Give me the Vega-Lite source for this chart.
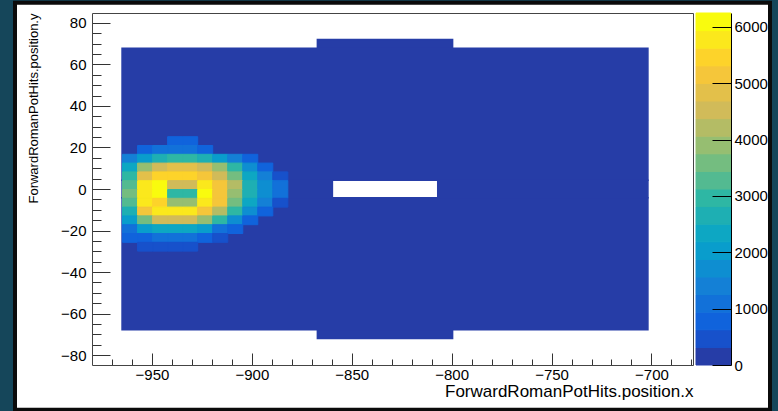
{
  "$schema": "https://vega.github.io/schema/vega-lite/v6.json",
  "background": "#15465a",
  "padding": {"left": 12, "top": 0, "right": 7, "bottom": 0},
  "bounds": "flush",
  "spacing": 3,
  "config": {
    "view": {"stroke": null},
    "font": "Liberation Sans",
    "axis": {"labelFont": "Liberation Sans", "titleFont": "Liberation Sans", "labelColor": "#000", "titleColor": "#000", "titleFontWeight": "normal", "grid": false, "domainColor": "#444", "domainWidth": 1, "tickColor": "#333", "tickWidth": 1, "labelFontSize": 15}
  },
  "datasets": {
    "regions": [
      {"x1": -964.96, "x2": -701.76, "y1": 4.24, "y2": 67.84, "v": 150},
      {"x1": -964.96, "x2": -701.76, "y1": -67.84, "y2": -4.24, "v": 150},
      {"x1": -964.96, "x2": -859.68, "y1": -4.24, "y2": 4.24, "v": 150},
      {"x1": -806.96, "x2": -701.76, "y1": -4.24, "y2": 4.24, "v": 150},
      {"x1": -867.2, "x2": -799.52, "y1": 67.84, "y2": 72.08, "v": 150},
      {"x1": -867.2, "x2": -799.52, "y1": -72.08, "y2": -67.84, "v": 150}
    ],
    "hits": [
      {"x": -938.64, "y": 23.32, "v": 774}, {"x": -931.12, "y": 23.32, "v": 774},
      {"x": -953.68, "y": 19.08, "v": 774}, {"x": -946.16, "y": 19.08, "v": 1086}, {"x": -938.64, "y": 19.08, "v": 1086}, {"x": -931.12, "y": 19.08, "v": 1086}, {"x": -923.6, "y": 19.08, "v": 774},
      {"x": -961.2, "y": 14.84, "v": 1398}, {"x": -953.68, "y": 14.84, "v": 2022}, {"x": -946.16, "y": 14.84, "v": 2646}, {"x": -938.64, "y": 14.84, "v": 2958}, {"x": -931.12, "y": 14.84, "v": 2958}, {"x": -923.6, "y": 14.84, "v": 2646}, {"x": -916.08, "y": 14.84, "v": 2022}, {"x": -908.56, "y": 14.84, "v": 1398}, {"x": -901.04, "y": 14.84, "v": 774},
      {"x": -961.2, "y": 10.6, "v": 2334}, {"x": -953.68, "y": 10.6, "v": 3894}, {"x": -946.16, "y": 10.6, "v": 4518}, {"x": -938.64, "y": 10.6, "v": 4830}, {"x": -931.12, "y": 10.6, "v": 4830}, {"x": -923.6, "y": 10.6, "v": 4518}, {"x": -916.08, "y": 10.6, "v": 3894}, {"x": -908.56, "y": 10.6, "v": 2958}, {"x": -901.04, "y": 10.6, "v": 1710}, {"x": -893.52, "y": 10.6, "v": 774},
      {"x": -961.2, "y": 6.36, "v": 2958}, {"x": -953.68, "y": 6.36, "v": 4830}, {"x": -946.16, "y": 6.36, "v": 5454}, {"x": -938.64, "y": 6.36, "v": 5454}, {"x": -931.12, "y": 6.36, "v": 5454}, {"x": -923.6, "y": 6.36, "v": 5142}, {"x": -916.08, "y": 6.36, "v": 4518}, {"x": -908.56, "y": 6.36, "v": 3582}, {"x": -901.04, "y": 6.36, "v": 2334}, {"x": -893.52, "y": 6.36, "v": 1398}, {"x": -886.0, "y": 6.36, "v": 462},
      {"x": -961.2, "y": 2.12, "v": 3270}, {"x": -953.68, "y": 2.12, "v": 5766}, {"x": -946.16, "y": 2.12, "v": 6078}, {"x": -938.64, "y": 2.12, "v": 4518}, {"x": -931.12, "y": 2.12, "v": 4518}, {"x": -923.6, "y": 2.12, "v": 5766}, {"x": -916.08, "y": 2.12, "v": 5142}, {"x": -908.56, "y": 2.12, "v": 4206}, {"x": -901.04, "y": 2.12, "v": 2646}, {"x": -893.52, "y": 2.12, "v": 1710}, {"x": -886.0, "y": 2.12, "v": 1086},
      {"x": -961.2, "y": -2.12, "v": 3582}, {"x": -953.68, "y": -2.12, "v": 5766}, {"x": -946.16, "y": -2.12, "v": 6078}, {"x": -938.64, "y": -2.12, "v": 2958}, {"x": -931.12, "y": -2.12, "v": 2958}, {"x": -923.6, "y": -2.12, "v": 6078}, {"x": -916.08, "y": -2.12, "v": 5142}, {"x": -908.56, "y": -2.12, "v": 3894}, {"x": -901.04, "y": -2.12, "v": 2646}, {"x": -893.52, "y": -2.12, "v": 1710}, {"x": -886.0, "y": -2.12, "v": 1086},
      {"x": -961.2, "y": -6.36, "v": 3270}, {"x": -953.68, "y": -6.36, "v": 5766}, {"x": -946.16, "y": -6.36, "v": 5454}, {"x": -938.64, "y": -6.36, "v": 3894}, {"x": -931.12, "y": -6.36, "v": 3894}, {"x": -923.6, "y": -6.36, "v": 5766}, {"x": -916.08, "y": -6.36, "v": 5142}, {"x": -908.56, "y": -6.36, "v": 3582}, {"x": -901.04, "y": -6.36, "v": 2334}, {"x": -893.52, "y": -6.36, "v": 1398}, {"x": -886.0, "y": -6.36, "v": 462},
      {"x": -961.2, "y": -10.6, "v": 2646}, {"x": -953.68, "y": -10.6, "v": 5142}, {"x": -946.16, "y": -10.6, "v": 5766}, {"x": -938.64, "y": -10.6, "v": 5766}, {"x": -931.12, "y": -10.6, "v": 5766}, {"x": -923.6, "y": -10.6, "v": 5142}, {"x": -916.08, "y": -10.6, "v": 4206}, {"x": -908.56, "y": -10.6, "v": 2958}, {"x": -901.04, "y": -10.6, "v": 1710}, {"x": -893.52, "y": -10.6, "v": 774},
      {"x": -961.2, "y": -14.84, "v": 2022}, {"x": -953.68, "y": -14.84, "v": 3582}, {"x": -946.16, "y": -14.84, "v": 4518}, {"x": -938.64, "y": -14.84, "v": 4518}, {"x": -931.12, "y": -14.84, "v": 4518}, {"x": -923.6, "y": -14.84, "v": 3894}, {"x": -916.08, "y": -14.84, "v": 2958}, {"x": -908.56, "y": -14.84, "v": 1710}, {"x": -901.04, "y": -14.84, "v": 774},
      {"x": -961.2, "y": -19.08, "v": 1086}, {"x": -953.68, "y": -19.08, "v": 2022}, {"x": -946.16, "y": -19.08, "v": 2334}, {"x": -938.64, "y": -19.08, "v": 2334}, {"x": -931.12, "y": -19.08, "v": 2334}, {"x": -923.6, "y": -19.08, "v": 2022}, {"x": -916.08, "y": -19.08, "v": 1086}, {"x": -908.56, "y": -19.08, "v": 774},
      {"x": -961.2, "y": -23.32, "v": 774}, {"x": -953.68, "y": -23.32, "v": 774}, {"x": -946.16, "y": -23.32, "v": 1086}, {"x": -938.64, "y": -23.32, "v": 1086}, {"x": -931.12, "y": -23.32, "v": 1086}, {"x": -923.6, "y": -23.32, "v": 774}, {"x": -916.08, "y": -23.32, "v": 462},
      {"x": -953.68, "y": -27.56, "v": 462}, {"x": -946.16, "y": -27.56, "v": 462}, {"x": -938.64, "y": -27.56, "v": 462}, {"x": -931.12, "y": -27.56, "v": 462}
    ],
    "palette": [
      {"lo": 0, "hi": 312.25, "v": 156}, {"lo": 312.25, "hi": 624.5, "v": 468}, {"lo": 624.5, "hi": 936.75, "v": 780}, {"lo": 936.75, "hi": 1249, "v": 1093},
      {"lo": 1249, "hi": 1561.25, "v": 1405}, {"lo": 1561.25, "hi": 1873.5, "v": 1717}, {"lo": 1873.5, "hi": 2185.75, "v": 2030}, {"lo": 2185.75, "hi": 2498, "v": 2342},
      {"lo": 2498, "hi": 2810.25, "v": 2654}, {"lo": 2810.25, "hi": 3122.5, "v": 2966}, {"lo": 3122.5, "hi": 3434.75, "v": 3279}, {"lo": 3434.75, "hi": 3747, "v": 3591},
      {"lo": 3747, "hi": 4059.25, "v": 3903}, {"lo": 4059.25, "hi": 4371.5, "v": 4215}, {"lo": 4371.5, "hi": 4683.75, "v": 4528}, {"lo": 4683.75, "hi": 4996, "v": 4840},
      {"lo": 4996, "hi": 5308.25, "v": 5152}, {"lo": 5308.25, "hi": 5620.5, "v": 5464}, {"lo": 5620.5, "hi": 5932.75, "v": 5777}, {"lo": 5932.75, "hi": 6245, "v": 6089}
    ]
  },
  "hconcat": [
    {
      "width": 601,
      "height": 352,
      "layer": [
        {
          "data": {"values": [{}]},
          "mark": {"type": "rect", "fill": "#ffffff", "stroke": "#0b0b0b", "strokeWidth": 4},
          "encoding": {
            "x": {"datum": -1018.54, "type": "quantitative", "scale": {"domain": [-980, -679.2], "nice": false, "zero": false}, "axis": {"orient": "top", "labels": false, "ticks": false, "title": null, "zindex": 2}},
            "x2": {"datum": -640.66},
            "y": {"datum": 89.76, "type": "quantitative", "scale": {"domain": [-84.8, 84.8], "nice": false, "zero": false}, "axis": {"orient": "right", "labels": false, "ticks": false, "title": null, "zindex": 2}},
            "y2": {"datum": -106.34}
          }
        },
        {
          "data": {"name": "regions"},
          "mark": {"type": "rect", "strokeWidth": 1.5},
          "encoding": {
            "x": {"field": "x1", "type": "quantitative", "scale": {"domain": [-980, -679.2], "nice": false, "zero": false}, "axis": {"orient": "bottom", "values": [-970, -960, -940, -930, -920, -910, -890, -880, -870, -860, -840, -830, -820, -810, -790, -780, -770, -760, -740, -730, -720, -710, -690, -680], "labels": false, "domain": false, "title": null, "tickSize": -6, "zindex": 2}},
            "x2": {"field": "x2"},
            "y": {"field": "y1", "type": "quantitative", "scale": {"domain": [-84.8, 84.8], "nice": false, "zero": false}, "axis": {"orient": "left", "values": [-75, -70, -65, -55, -50, -45, -35, -30, -25, -15, -10, -5, 5, 10, 15, 25, 30, 35, 45, 50, 55, 65, 70, 75], "labels": false, "domain": false, "title": null, "tickSize": -9, "zindex": 2}},
            "y2": {"field": "y2"},
            "color": {"field": "v", "type": "quantitative", "scale": {"type": "quantize", "domain": [0, 6245], "nice": false, "range": ["#263da7", "#1751cb", "#1063dc", "#1271d9", "#1480d6", "#0e8ed1", "#099dcc", "#0da7c3", "#1eafb3", "#2eb7a4", "#53ba91", "#74bd80", "#96be71", "#b4bc65", "#d1bb59", "#e3c04a", "#f5c63a", "#fdd32a", "#fbe81c", "#f9fb0e"]}, "legend": null},
            "stroke": {"field": "v", "type": "quantitative", "scale": {"type": "quantize", "domain": [0, 6245], "nice": false, "range": ["#263da7", "#1751cb", "#1063dc", "#1271d9", "#1480d6", "#0e8ed1", "#099dcc", "#0da7c3", "#1eafb3", "#2eb7a4", "#53ba91", "#74bd80", "#96be71", "#b4bc65", "#d1bb59", "#e3c04a", "#f5c63a", "#fdd32a", "#fbe81c", "#f9fb0e"]}, "legend": null}
          }
        },
        {
          "data": {"name": "hits"},
          "mark": {"type": "rect", "strokeWidth": 1},
          "encoding": {
            "x": {"field": "x", "type": "quantitative", "bin": {"extent": [-980, -679.2], "step": 7.52, "nice": false}, "scale": {"domain": [-980, -679.2], "nice": false, "zero": false}, "axis": {"orient": "bottom", "values": [-950, -900, -850, -800, -750, -700], "format": "d", "tickSize": -12, "labelPadding": 14, "labelFlush": false, "title": "ForwardRomanPotHits.position.x", "titleAnchor": "end", "titleFontSize": 17, "titlePadding": 1, "zindex": 2}},
            "y": {"field": "y", "type": "quantitative", "bin": {"extent": [-84.8, 84.8], "step": 4.24, "nice": false}, "scale": {"domain": [-84.8, 84.8], "nice": false, "zero": false}, "axis": {"orient": "left", "values": [-80, -60, -40, -20, 0, 20, 40, 60, 80], "format": "d", "tickSize": -18, "labelPadding": 24, "title": "ForwardRomanPotHits.position.y", "titleAnchor": "end", "titleFontSize": 13, "titlePadding": 20, "zindex": 2}},
            "color": {"field": "v", "type": "quantitative", "scale": {"type": "quantize", "domain": [0, 6245], "nice": false, "range": ["#263da7", "#1751cb", "#1063dc", "#1271d9", "#1480d6", "#0e8ed1", "#099dcc", "#0da7c3", "#1eafb3", "#2eb7a4", "#53ba91", "#74bd80", "#96be71", "#b4bc65", "#d1bb59", "#e3c04a", "#f5c63a", "#fdd32a", "#fbe81c", "#f9fb0e"]}, "legend": null},
            "stroke": {"field": "v", "type": "quantitative", "scale": {"type": "quantize", "domain": [0, 6245], "nice": false, "range": ["#263da7", "#1751cb", "#1063dc", "#1271d9", "#1480d6", "#0e8ed1", "#099dcc", "#0da7c3", "#1eafb3", "#2eb7a4", "#53ba91", "#74bd80", "#96be71", "#b4bc65", "#d1bb59", "#e3c04a", "#f5c63a", "#fdd32a", "#fbe81c", "#f9fb0e"]}, "legend": null}
          }
        }
      ],
      "resolve": {"axis": {"x": "independent", "y": "independent"}}
    },
    {
      "width": 35,
      "height": 352,
      "data": {"name": "palette"},
      "mark": {"type": "rect", "strokeWidth": 1},
      "encoding": {
        "y": {"field": "lo", "type": "quantitative", "scale": {"domain": [0, 6245], "nice": false, "zero": false}, "axis": {"orient": "right", "values": [0, 1000, 2000, 3000, 4000, 5000, 6000], "format": "d", "tickSize": -19, "labelPadding": 22, "title": null, "domainColor": "#000", "tickColor": "#000", "zindex": 2}},
        "y2": {"field": "hi"},
        "color": {"field": "v", "type": "quantitative", "scale": {"type": "quantize", "domain": [0, 6245], "nice": false, "range": ["#263da7", "#1751cb", "#1063dc", "#1271d9", "#1480d6", "#0e8ed1", "#099dcc", "#0da7c3", "#1eafb3", "#2eb7a4", "#53ba91", "#74bd80", "#96be71", "#b4bc65", "#d1bb59", "#e3c04a", "#f5c63a", "#fdd32a", "#fbe81c", "#f9fb0e"]}, "legend": null},
        "stroke": {"field": "v", "type": "quantitative", "scale": {"type": "quantize", "domain": [0, 6245], "nice": false, "range": ["#263da7", "#1751cb", "#1063dc", "#1271d9", "#1480d6", "#0e8ed1", "#099dcc", "#0da7c3", "#1eafb3", "#2eb7a4", "#53ba91", "#74bd80", "#96be71", "#b4bc65", "#d1bb59", "#e3c04a", "#f5c63a", "#fdd32a", "#fbe81c", "#f9fb0e"]}, "legend": null}
      }
    }
  ]
}
